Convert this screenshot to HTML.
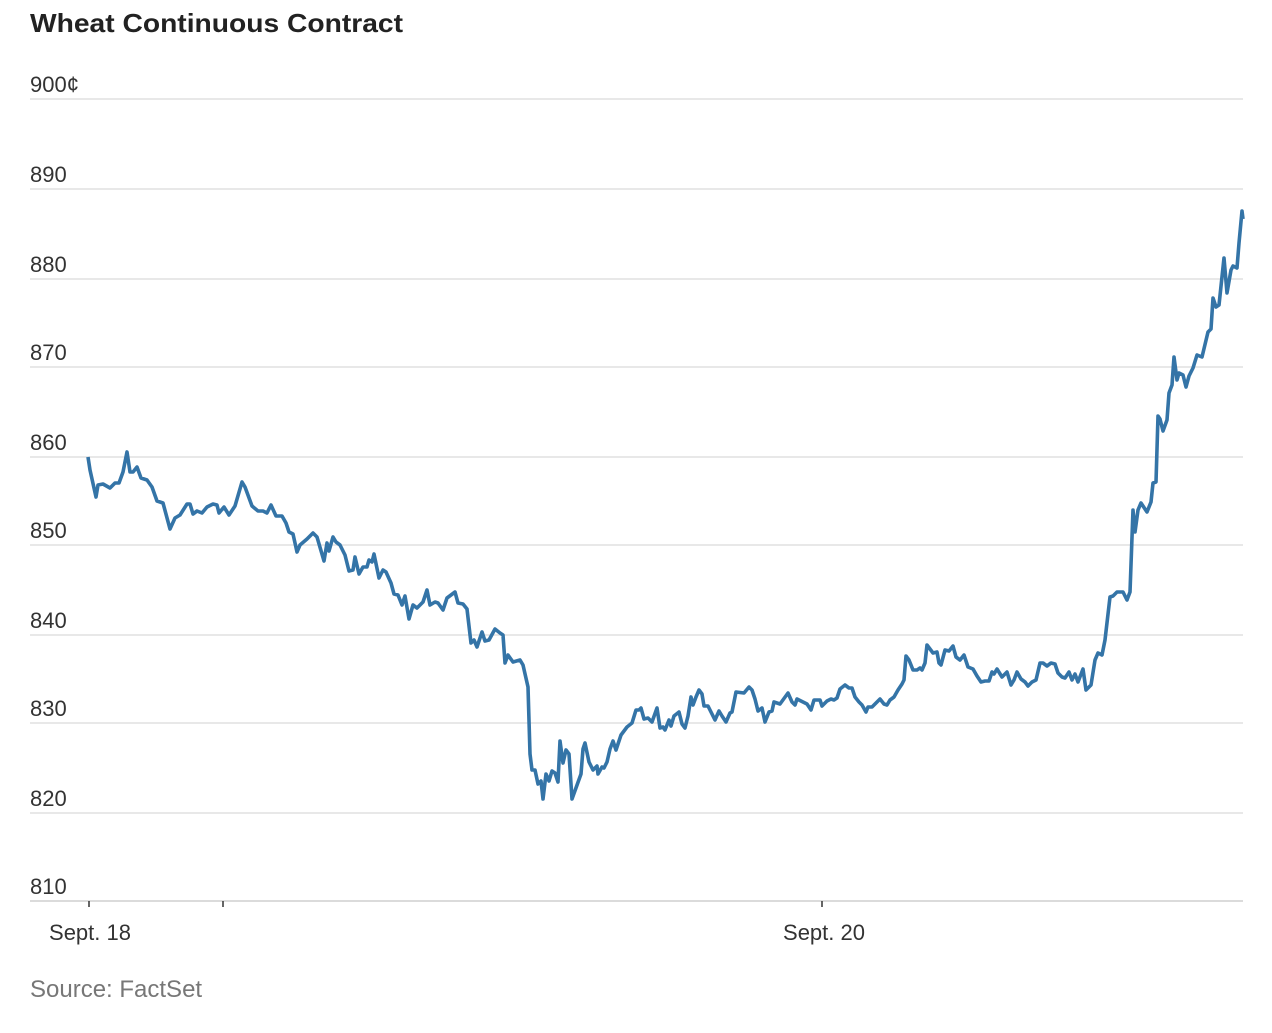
<!DOCTYPE html>
<html><head><meta charset="utf-8"><style>
html,body{margin:0;padding:0;background:#fff;}
body{width:1272px;height:1028px;overflow:hidden;font-family:"Liberation Sans",sans-serif;}
</style></head><body>
<svg width="1272" height="1028" xmlns="http://www.w3.org/2000/svg">
<text x="30" y="32" font-family="Liberation Sans, sans-serif" font-size="26" font-weight="bold" fill="#222" textLength="373" lengthAdjust="spacingAndGlyphs">Wheat Continuous Contract</text>
<g stroke="#e0e0e0" stroke-width="1.5">
<line x1="30" x2="1243" y1="99" y2="99"/>
<line x1="30" x2="1243" y1="189" y2="189"/>
<line x1="30" x2="1243" y1="279" y2="279"/>
<line x1="30" x2="1243" y1="367" y2="367"/>
<line x1="30" x2="1243" y1="457" y2="457"/>
<line x1="30" x2="1243" y1="545" y2="545"/>
<line x1="30" x2="1243" y1="635" y2="635"/>
<line x1="30" x2="1243" y1="723" y2="723"/>
<line x1="30" x2="1243" y1="813" y2="813"/>
</g>
<line x1="30" x2="1243" y1="901" y2="901" stroke="#cfcfcf" stroke-width="1.5"/>
<g stroke="#333" stroke-width="1.5">
<line x1="89" x2="89" y1="901" y2="907"/>
<line x1="223" x2="223" y1="901" y2="907"/>
<line x1="822" x2="822" y1="901" y2="907"/>
</g>
<g font-family="Liberation Sans, sans-serif" font-size="22" fill="#333">
<text x="30" y="92">900¢</text>
<text x="30" y="182">890</text>
<text x="30" y="272">880</text>
<text x="30" y="360">870</text>
<text x="30" y="450">860</text>
<text x="30" y="538">850</text>
<text x="30" y="628">840</text>
<text x="30" y="716">830</text>
<text x="30" y="806">820</text>
<text x="30" y="894">810</text>
<text x="90" y="940" text-anchor="middle">Sept. 18</text>
<text x="824" y="940" text-anchor="middle">Sept. 20</text>
</g>
<text x="30" y="997" font-family="Liberation Sans, sans-serif" font-size="24" fill="#777">Source: FactSet</text>
<polyline fill="none" stroke="#3474a7" stroke-width="3.6" stroke-linejoin="round" points="
88,457 90,470 96,497 98,485 103,484 110,488 115,483 119,483 123,472 127,452 130,472 133,472 137,467 141,478 147,480 152,487 157,501 163,503 170,529 175,518 180,515 187,504 190,504 193,514 197,511 202,513 207,507 213,504 217,505 219,513 224,507 229,515 235,506 242,482 245,487 252,506 258,511 263,511 267,513 271,505 276,516 282,516 286,523 289,532 293,534 297,552 300,545 307,539 313,533 317,537 324,561 327,543 329,551 333,537 336,542 340,545 345,555 349,571 353,570 355,557 359,574 363,567 367,567 369,560 372,562 374,554 379,578 383,570 386,572 391,583 394,594 398,595 402,605 405,596 409,619 413,605 417,608 423,602 427,590 430,605 435,602 438,603 443,610 447,598 451,595 455,592 458,603 463,604 467,609 471,643 474,640 477,647 482,632 485,641 489,640 495,629 500,633 503,635 505,663 508,655 513,662 520,660 523,665 528,687 530,754 532,770 535,770 538,784 541,781 543,799 546,774 549,781 552,771 555,773 558,782 560,741 563,763 566,750 569,754 572,799 581,774 583,749 585,743 589,762 593,770 597,766 598,774 602,767 604,768 607,762 610,749 613,741 616,750 621,735 627,727 632,723 636,710 639,710 641,708 644,719 648,718 652,722 657,708 660,728 663,727 665,730 669,720 671,726 674,716 679,712 682,724 685,728 688,716 691,697 693,705 696,697 699,690 702,694 704,706 708,706 715,720 719,711 722,716 726,722 730,713 732,712 736,692 744,693 749,687 752,690 755,699 758,711 762,708 765,722 769,712 772,711 774,702 780,704 788,693 792,702 795,705 797,699 803,702 807,704 811,710 814,700 820,700 822,706 827,701 831,699 834,700 837,698 840,689 845,685 849,688 852,688 855,697 859,702 862,705 866,712 868,707 872,707 875,704 880,699 884,704 887,705 890,700 894,697 898,690 902,684 904,680 906,656 909,660 913,670 917,670 920,668 922,670 925,663 927,645 930,649 933,653 937,652 939,663 941,665 945,650 949,651 953,646 956,657 960,660 964,655 968,667 973,669 977,676 981,682 985,681 989,681 992,672 994,674 997,669 1002,677 1007,672 1011,685 1014,680 1017,672 1021,679 1025,682 1028,686 1032,682 1036,680 1040,663 1043,663 1047,666 1051,663 1055,664 1058,673 1062,677 1065,678 1069,672 1072,680 1075,674 1078,682 1083,669 1086,690 1091,685 1095,660 1098,653 1102,655 1105,640 1110,597 1113,596 1117,592 1123,592 1127,600 1130,592 1133,510 1135,532 1138,510 1141,503 1147,512 1151,502 1153,483 1156,482 1158,416 1160,419 1163,431 1167,420 1169,393 1172,385 1174,357 1177,380 1179,373 1183,375 1186,387 1189,376 1193,368 1197,355 1202,357 1208,332 1211,329 1213,298 1216,307 1219,305 1224,258 1227,293 1231,270 1233,266 1237,268 1239,243 1242,211 1243,219"/>
</svg>
</body></html>
